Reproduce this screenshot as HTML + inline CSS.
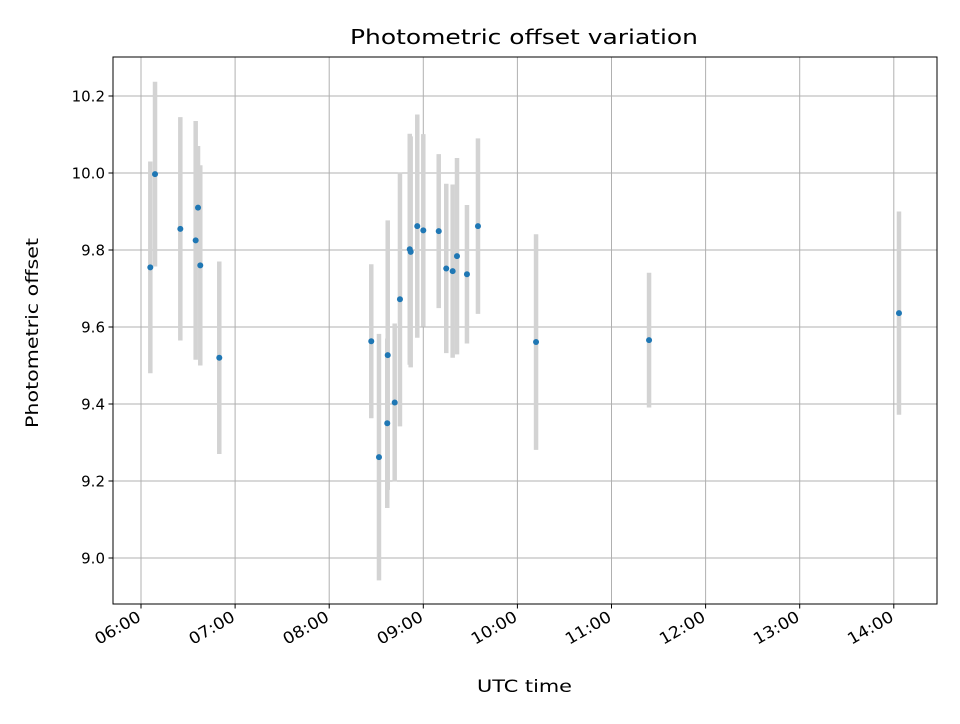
<!DOCTYPE html>
<html><head><meta charset="utf-8"><style>
body{margin:0;background:#fff;font-family:"DejaVu Sans","Liberation Sans",sans-serif}
svg text{font-family:"DejaVu Sans","Liberation Sans",sans-serif}
</style></head><body>
<svg id="chart" width="960" height="720" xmlns="http://www.w3.org/2000/svg">
<rect width="960" height="720" fill="#fff"/>
<text x="350" y="44" font-size="20" textLength="348" lengthAdjust="spacingAndGlyphs">Photometric offset variation</text>
<text x="477" y="692" font-size="17" textLength="95" lengthAdjust="spacingAndGlyphs">UTC time</text>
<text transform="translate(38,428) rotate(-90)" font-size="17" textLength="190" lengthAdjust="spacingAndGlyphs">Photometric offset</text>
<g id="grid"></g><g id="bars"></g><g id="pts"></g><g id="axes"></g>
<rect x="113" y="57" width="824" height="547" fill="none" stroke="#000" stroke-width="1"/>
</svg>
<script>
const times=[6.099,6.149,6.418,6.581,6.606,6.630,6.832,8.447,8.529,8.622,8.617,8.696,8.752,8.856,8.866,8.936,9.0,9.164,9.244,9.312,9.358,9.464,9.581,10.198,11.399,14.055];
const offsets=[9.755,9.997,9.855,9.825,9.91,9.76,9.52,9.563,9.262,9.527,9.35,9.404,9.672,9.802,9.795,9.862,9.851,9.849,9.752,9.745,9.784,9.737,9.862,9.561,9.566,9.636];
const errors=[0.275,0.24,0.29,0.31,0.16,0.26,0.25,0.2,0.32,0.35,0.22,0.205,0.33,0.3,0.3,0.29,0.25,0.2,0.22,0.225,0.255,0.18,0.228,0.28,0.175,0.264];
const xTicks=[6,7,8,9,10,11,12,13,14];
const xTickLabels=["06:00","07:00","08:00","09:00","10:00","11:00","12:00","13:00","14:00"];
const yTicks=[9.0,9.2,9.4,9.6,9.8,10.0,10.2];
const NS="http://www.w3.org/2000/svg";
function xs(h){return 141+(h-6)*94.1;}
function ys(v){return 558-(v-9.0)*385;}
function mk(t,a,p){const e=document.createElementNS(NS,t);for(const k in a)e.setAttribute(k,a[k]);p.appendChild(e);return e;}
const grid=document.getElementById('grid'),axes=document.getElementById('axes'),bars=document.getElementById('bars'),pts=document.getElementById('pts');
xTicks.forEach((t,i)=>{const x=xs(t);
 const g=mk('line',{x1:x,x2:x,y1:57,y2:604,stroke:'#b0b0b0','stroke-width':1},grid);
 
 
 mk('line',{x1:x,x2:x,y1:604,y2:608.5,stroke:'#000'},axes);
 const tx=mk('text',{x:0,y:0,'font-size':16,'text-anchor':'end',textLength:50,lengthAdjust:'spacingAndGlyphs',transform:`translate(${x+1} 620) rotate(-30)`},axes);
 tx.textContent=xTickLabels[i];
 
 
});
yTicks.forEach(t=>{const y=ys(t);
 const g=mk('line',{x1:113,x2:937,y1:y,y2:y,stroke:'#b0b0b0','stroke-width':1},grid);
 
 
 mk('line',{x1:108.5,x2:113,y1:y,y2:y,stroke:'#000'},axes);
 const tx=mk('text',{x:105,y:y+5.5,'font-size':15,'text-anchor':'end'},axes);
 tx.textContent=t.toFixed(1);
 
 
});
times.forEach((t,i)=>{const x=xs(t);
 const b=mk('line',{x1:x,x2:x,y1:ys(offsets[i]+errors[i]),y2:ys(offsets[i]-errors[i]),stroke:'#d3d3d3','stroke-width':4.5},bars);
 
 
 const c=mk('circle',{cx:x,cy:ys(offsets[i]),r:3,fill:'#1f77b4'},pts);
 
 
});
</script>
</body></html>
